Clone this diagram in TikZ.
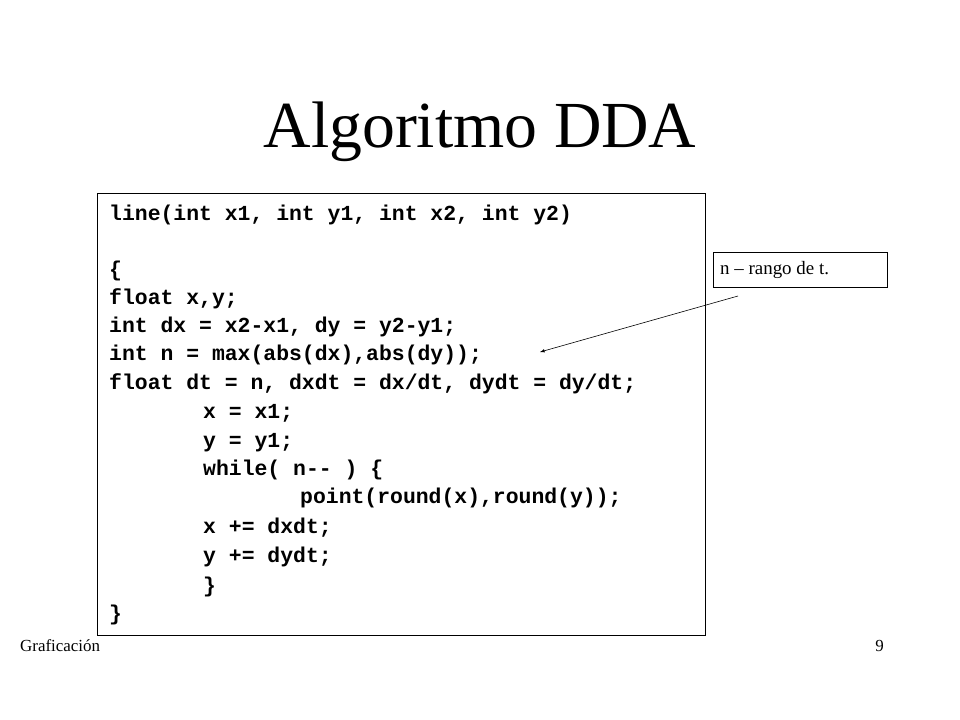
\documentclass[tikz,border=0pt]{standalone}
\usepackage{fontspec}
\setmainfont{Liberation Serif}
\setmonofont{Liberation Mono}
\begin{document}
\begin{tikzpicture}[x=1bp,y=-1bp,
  code/.style={anchor=base west,inner sep=0pt,font=\ttfamily\bfseries\fontsize{21.5}{24}\selectfont},
  box/.style={draw,line width=0.8pt}]
\useasboundingbox (0,0) rectangle (960,720);
\node[anchor=base,inner sep=0] (title) at (480,148) {\fontsize{66}{70}\selectfont Algoritmo DDA};
\node[box,minimum width=608bp,minimum height=442bp,anchor=north west,inner sep=0] (cb) at (97,193) {};
\foreach \yy/\xx/\t [count=\i] in {
 220/109/{line(int x1, int y1, int x2, int y2)},
 276/109/{\{},
 304/109/{float x,y;},
 332/109/{int dx = x2-x1, dy = y2-y1;},
 360/109/{int n = max(abs(dx),abs(dy));},
 389/109/{float dt = n, dxdt = dx/dt, dydt = dy/dt;},
 418/203/{x = x1;},
 447/203/{y = y1;},
 475/203/{while( n-- ) \{},
 503/300/{point(round(x),round(y));},
 533/203/{x += dxdt;},
 562/203/{y += dydt;},
 592/203/{\}},
 620/109/{\}}}
 \node[code] (c\i) at (\xx,\yy) {\t};
\node[box,minimum width=174bp,minimum height=35bp,anchor=north west,inner sep=0] (lb) at (713,252) {};
\node[anchor=west,inner sep=0,font=\fontsize{19}{22}\selectfont] (lt) at (720,270) {n – rango de t.};
\coordinate (as) at (738,296);
\coordinate (ae) at (540,352);
\draw[-latex,line width=0.6pt] (as) -- (ae);
\node[anchor=base west,inner sep=0,font=\fontsize{17}{20}\selectfont] (f1) at (20,651) {Graficación};
\node[anchor=base east,inner sep=0,font=\fontsize{17}{20}\selectfont] (f2) at (884,651) {9};
\end{tikzpicture}
\end{document}
